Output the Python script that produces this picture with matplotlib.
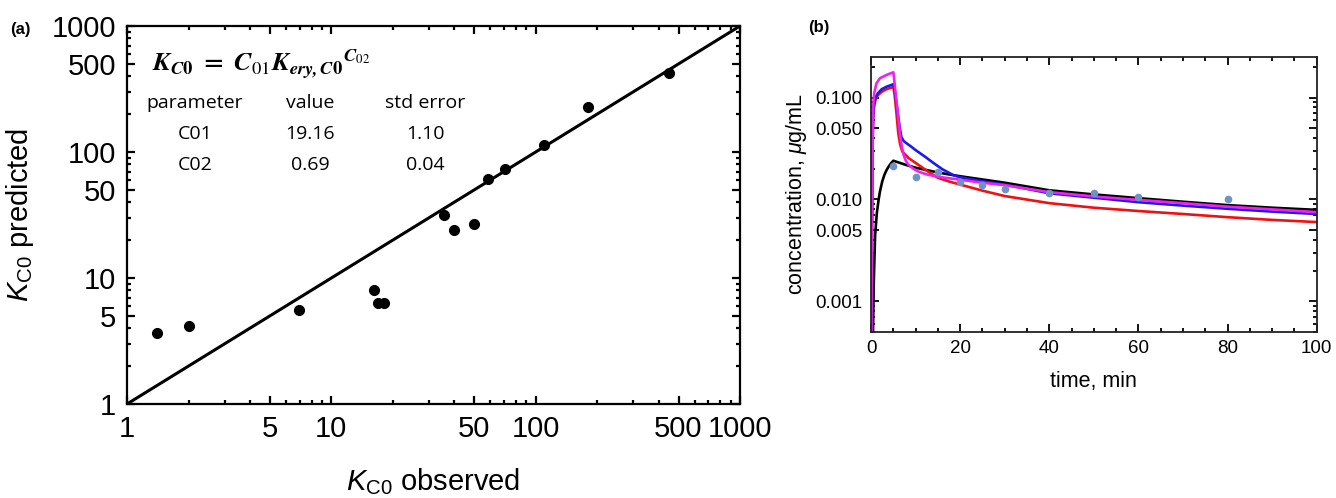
import numpy as np
import matplotlib
matplotlib.use("Agg")
import matplotlib.pyplot as plt
from matplotlib.ticker import LogLocator, FixedLocator, NullFormatter, MultipleLocator

plt.rcParams["font.family"] = ["Liberation Sans", "DejaVu Sans"]
plt.rcParams["mathtext.fontset"] = "custom"
plt.rcParams["mathtext.rm"] = "Liberation Sans"
plt.rcParams["mathtext.it"] = "Liberation Sans:italic"
plt.rcParams["mathtext.bf"] = "Liberation Sans:bold"

# panel (a): observed vs predicted K_C0
k_obs = [1.40, 2.01, 6.95, 16.2, 16.9, 18.1, 35.6, 39.9, 49.9, 58.5, 70.8, 110, 180, 450]
k_pred = [3.67, 4.17, 5.6, 8.07, 6.36, 6.36, 31.9, 24.2, 26.6, 60.5, 72.7, 113, 226, 422]
identity = [1, 1000]
log_ticks = [1, 5, 10, 50, 100, 500, 1000]
table_header = ["parameter", "value", "std error"]
table_rows = [["C01", "19.16", "1.10"], ["C02", "0.69", "0.04"]]

# panel (b): concentration vs time
t_obs = [5, 10, 15, 20, 25, 30, 40, 50, 60, 80]
c_obs = [0.0213, 0.0167, 0.0184, 0.0148, 0.0138, 0.0128, 0.0116, 0.0115, 0.0105, 0.0102]

t_black = [0.0, 0.4, 0.6, 0.9, 1.3, 1.7, 2.0, 2.5, 3.0, 3.5, 4.0, 4.5, 5.0,
           6.0, 8.0, 10.0, 12.5, 15.0, 17.5, 20.0, 25.0, 30.0, 35.0, 40.0, 50.0, 60.0, 70.0, 80.0, 90.0, 100.0]
c_black = [0.0001, 0.0004, 0.0015, 0.0044, 0.0074, 0.0100, 0.0120, 0.0150, 0.0175, 0.0195, 0.0212, 0.0227, 0.0240,
           0.0232, 0.0217, 0.0205, 0.0194, 0.0184, 0.0176, 0.0169, 0.0157, 0.0146, 0.0134, 0.0123, 0.0112, 0.0103,
           0.0095, 0.0088, 0.0083, 0.0079]

t_blue = [0.0, 0.1, 0.2, 0.3, 0.4, 0.5, 0.7, 1.0, 1.5, 2.4, 3.5, 5.0,
          5.3, 5.6, 6.0, 6.4, 6.8, 7.3, 8.0, 9.0, 10.0, 12.0, 14.0, 16.0, 18.5, 20.0, 25.0, 30.0,
          40.0, 50.0, 60.0, 70.0, 80.0, 90.0, 100.0]
c_blue = [0.0001, 0.0008, 0.005, 0.02, 0.05, 0.072, 0.088, 0.100, 0.110, 0.121, 0.128, 0.135,
          0.118, 0.095, 0.070, 0.052, 0.041, 0.0375, 0.0355, 0.0330, 0.0305, 0.0265, 0.0228, 0.0198, 0.0173,
          0.0165, 0.0151, 0.0140, 0.0115, 0.0104, 0.0094, 0.0087, 0.0081, 0.0076, 0.0072]

t_red = [0.0, 0.1, 0.2, 0.3, 0.4, 0.5, 0.7, 1.0, 1.5, 2.4, 3.5, 5.0,
         5.3, 5.7, 6.1, 6.5, 7.0, 8.4, 10.6, 13.0, 15.0, 17.5, 20.0, 25.0, 30.0,
         40.0, 50.0, 60.0, 70.0, 80.0, 90.0, 100.0]
c_red = [0.0001, 0.0008, 0.005, 0.019, 0.048, 0.068, 0.084, 0.095, 0.105, 0.114, 0.121, 0.127,
         0.105, 0.070, 0.045, 0.035, 0.0296, 0.0255, 0.0219, 0.0185, 0.0163, 0.0150, 0.0140, 0.0122, 0.0108,
         0.0092, 0.0083, 0.0077, 0.0072, 0.0067, 0.0063, 0.0060]

t_magenta = [0.0, 0.1, 0.2, 0.3, 0.4, 0.5, 0.7, 1.2, 2.0, 3.5, 5.0,
             5.2, 5.5, 5.8, 6.2, 6.5, 6.9, 7.3, 7.8, 8.4, 9.5, 10.6, 12.5, 15.0, 20.0, 25.0, 30.0,
             40.0, 50.0, 60.0, 70.0, 80.0, 90.0, 100.0]
c_magenta = [0.0001, 0.001, 0.006, 0.025, 0.06, 0.085, 0.110, 0.138, 0.155, 0.167, 0.177,
             0.150, 0.110, 0.085, 0.058, 0.043, 0.033, 0.0274, 0.0240, 0.0219, 0.0200, 0.0188, 0.0176, 0.0167,
             0.0156, 0.0146, 0.0138, 0.0118, 0.0107, 0.0099, 0.0092, 0.0085, 0.0080, 0.0075]


def frame_ticks(ax, width):
    ax.tick_params(which="both", direction="in", top=True, right=True, width=width)
    ax.tick_params(which="major", length=6)
    ax.tick_params(which="minor", length=3)
    for sp in ax.spines.values():
        sp.set_linewidth(width)


fig = plt.figure(figsize=(13.36, 4.98), dpi=100)

# ---- panel (a)
ax1 = fig.add_axes([0.0951, 0.1888, 0.4588, 0.7590])
ax1.plot(identity, identity, color="black", lw=2.2)
ax1.plot(k_obs, k_pred, "o", color="black", ms=7)
ax1.set_xscale("log")
ax1.set_yscale("log")
ax1.set_xlim(1, 1000)
ax1.set_ylim(1, 1000)
ax1.xaxis.set_major_locator(FixedLocator(log_ticks))
ax1.yaxis.set_major_locator(FixedLocator(log_ticks))
ax1.set_xticklabels([str(v) for v in log_ticks])
ax1.set_yticklabels([str(v) for v in log_ticks])
ax1.xaxis.set_minor_locator(LogLocator(base=10, subs=np.arange(2, 10)))
ax1.yaxis.set_minor_locator(LogLocator(base=10, subs=np.arange(2, 10)))
ax1.xaxis.set_minor_formatter(NullFormatter())
ax1.yaxis.set_minor_formatter(NullFormatter())
frame_ticks(ax1, 1.6)
ax1.tick_params(axis="both", which="major", labelsize=21, pad=8)
ax1.set_xlabel(r"$K_{\mathrm{C0}}$ observed", fontsize=21, labelpad=17)
ax1.set_ylabel(r"$K_{\mathrm{C0}}$ predicted", fontsize=21, labelpad=11)

ax1.text(0.041, 0.899,
         r"$\mathbfit{K}_{\mathbfit{C}\mathbf{0}}\ \mathbf{=}\ \mathbfit{C}_{01}"
         r"\mathbfit{K}_{\mathbfit{ery,C}\mathbf{0}}{}^{\mathbfit{C}_{02}}$",
         transform=ax1.transAxes, fontsize=19, ha="left", va="center",
         math_fontfamily="stix")
col_x = [0.111, 0.299, 0.486]
row_y = [0.796, 0.713, 0.631]
for j, h in enumerate(table_header):
    ax1.text(col_x[j], row_y[0], h, transform=ax1.transAxes, fontsize=14,
             ha="center", va="center", family=["Open Sans", "DejaVu Sans"])
for i, row in enumerate(table_rows):
    for j, cell in enumerate(row):
        ax1.text(col_x[j], row_y[i + 1], cell, transform=ax1.transAxes, fontsize=14,
                 ha="center", va="center", family=["Open Sans", "DejaVu Sans"])

fig.text(0.0075, 0.94, "(a)", fontsize=12, fontweight="bold", ha="left", va="center")

# ---- panel (b)
ax2 = fig.add_axes([0.652, 0.3333, 0.3335, 0.5522])
ax2.plot(t_black, c_black, color="black", lw=1.9)
ax2.plot(t_red, c_red, color="#ee1111", lw=1.9)
ax2.plot(t_blue, c_blue, color="#1a1aee", lw=1.9)
ax2.plot(t_magenta, c_magenta, color="#ee22ee", lw=1.9)
ax2.plot(t_obs, c_obs, "o", color="#6f93c6", ms=4.5)
ax2.set_yscale("log")
ax2.set_xlim(0, 100)
ax2.set_ylim(0.0005, 0.25)
conc_ticks = [0.001, 0.005, 0.010, 0.050, 0.100]
ax2.yaxis.set_major_locator(FixedLocator(conc_ticks))
ax2.set_yticklabels(["0.001", "0.005", "0.010", "0.050", "0.100"])
ax2.yaxis.set_minor_locator(LogLocator(base=10, subs=np.arange(2, 10)))
ax2.yaxis.set_minor_formatter(NullFormatter())
ax2.xaxis.set_major_locator(MultipleLocator(20))
ax2.xaxis.set_minor_locator(MultipleLocator(5))
frame_ticks(ax2, 1.3)
for sp in ax2.spines.values():
    sp.set_color("#222222")
ax2.tick_params(axis="both", which="major", labelsize=13.5, pad=6)
ax2.set_xlabel("time, min", fontsize=15.5, labelpad=10)
ax2.set_ylabel(r"concentration, $\mu$g/mL", fontsize=15.5, labelpad=5)

fig.text(0.605, 0.944, "(b)", fontsize=12, fontweight="bold", ha="left", va="center")

fig.savefig("out.png", dpi=100)
